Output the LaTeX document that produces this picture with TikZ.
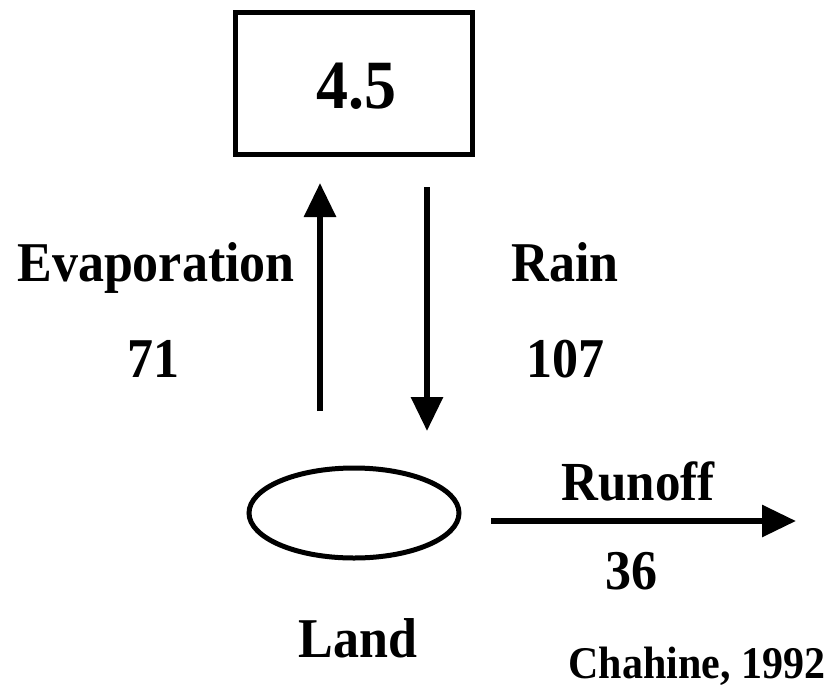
\documentclass[tikz,border=0pt]{standalone}
\usepackage{fontspec}
\usepackage{graphicx}
\setmainfont{Liberation Serif}
\usetikzlibrary{arrows.meta,shapes.geometric}
\newcommand{\tallt}[1]{\scalebox{1}[1.08]{#1}}
\begin{document}
\begin{tikzpicture}[x=1pt,y=-1pt,
  lbl/.style={font=\fontsize{52}{60}\selectfont\bfseries, inner sep=0pt, anchor=base},
  flow/.style={line width=6pt, -{Triangle[length=34pt,width=31pt]}}]
\useasboundingbox[fill=white] (0,0) rectangle (832,689);
\node[draw, line width=5pt, minimum width=237pt, minimum height=142pt, inner sep=0pt] (box) at (354,83.5) {};
\node[lbl, font=\fontsize{64}{70}\selectfont\bfseries] (val) at (356,108) {\tallt{4.5}};
\node[draw, ellipse, line width=5pt, minimum width=210pt, minimum height=90pt, inner sep=0pt] (land) at (354,513) {};
\coordinate (evs) at (320,411);
\coordinate (eve) at (320,183);
\coordinate (rns) at (427,187);
\coordinate (rne) at (427,431);
\coordinate (ros) at (491,521);
\coordinate (roe) at (796,521);
\draw[flow] (evs) -- (eve);
\draw[flow] (rns) -- (rne);
\draw[flow] (ros) -- (roe);
\node[lbl] (evap) at (156,281) {\tallt{Evaporation}};
\node[lbl] (evn) at (153,377) {\tallt{71}};
\node[lbl] (rain) at (565,281) {\tallt{Rain}};
\node[lbl] (rainn) at (565,377) {\tallt{107}};
\node[lbl, font=\fontsize{51}{55}\selectfont\bfseries] (ro) at (638,500) {\tallt{Runoff}};
\node[lbl] (ron) at (631,589) {\tallt{36}};
\node[lbl] (landl) at (358,657) {\tallt{Land}};
\node[lbl, font=\fontsize{42}{50}\selectfont\bfseries] (src) at (697,678) {\tallt{Chahine, 1992}};
\end{tikzpicture}
\end{document}
